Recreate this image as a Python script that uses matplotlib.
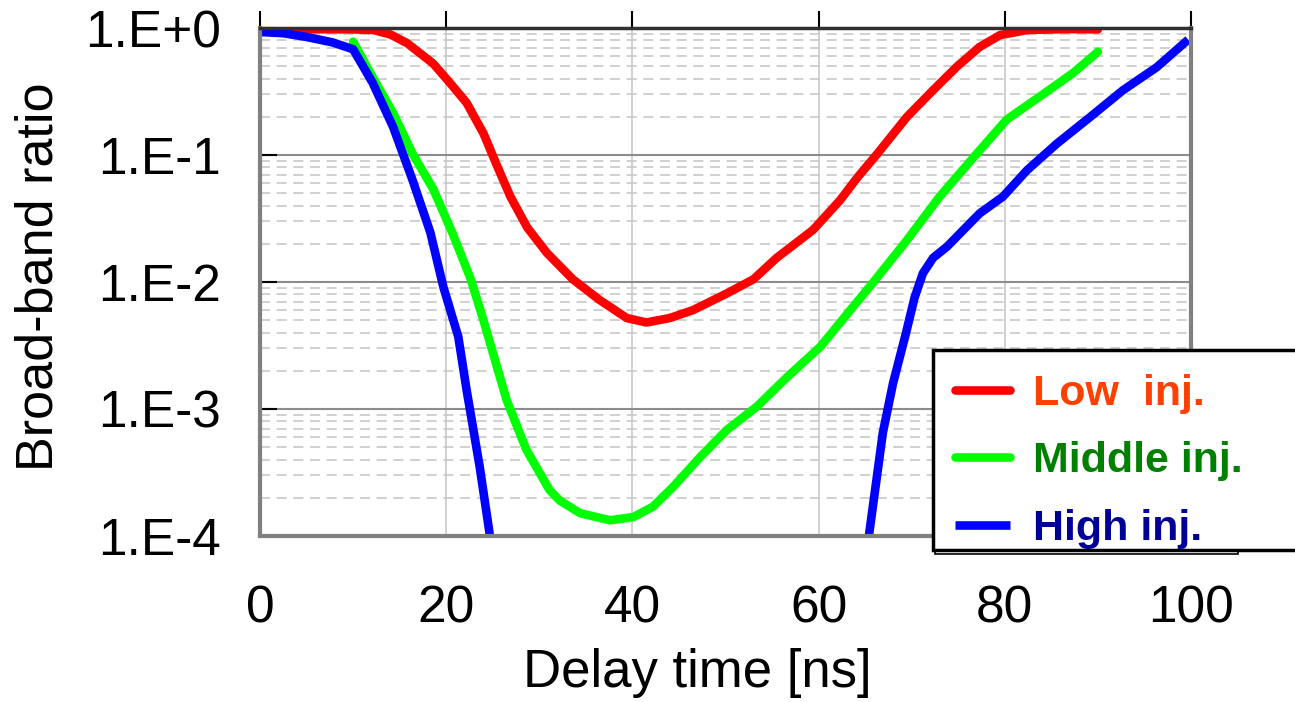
import numpy as np
import matplotlib
matplotlib.use('Agg')
import matplotlib.pyplot as plt
from matplotlib.ticker import LogLocator, NullFormatter
from matplotlib.patches import Rectangle

plt.rcParams['font.family'] = ['Liberation Sans', 'DejaVu Sans']

# curves (delay time in ns, ratio)
low_t = [0, 5, 10, 12.2, 14, 15.8, 18.6, 20.4, 22.2, 24, 25.5, 26.9, 28.7, 30.8, 33.6, 36.5,
         39.4, 41.5, 44, 46.5, 50.1, 53, 55.5, 59.4, 62.3, 64.2, 66.2, 69.5, 72.3, 74.9, 77.3,
         79.5, 82.4, 85, 87.3, 90]
low_r = [0.98, 0.98, 0.975, 0.964, 0.89, 0.76, 0.525, 0.37, 0.257, 0.148, 0.081, 0.047,
         0.0269, 0.017, 0.0105, 0.0072, 0.0052, 0.0048, 0.0052, 0.006, 0.0081, 0.0105, 0.0155,
         0.0257, 0.044, 0.067, 0.1, 0.2, 0.324, 0.5, 0.71, 0.88, 0.964, 0.975, 0.98, 0.975]

mid_t = [10, 12.1, 14.3, 16.4, 18.6, 20.7, 22.6, 24, 26.5, 28.6, 31.1, 32.2, 34.4, 37.6, 40.1,
         42.2, 44.4, 47.3, 50.1, 53.4, 56.6, 60.2, 63.4, 65.8, 69.5, 73, 76.6, 80.2, 83.8,
         87.3, 90]
mid_r = [0.78, 0.41, 0.214, 0.102, 0.054, 0.024, 0.0107, 0.005, 0.00117, 0.00048, 0.00023,
         0.00019, 0.000151, 0.000133, 0.000141, 0.00017, 0.000245, 0.00042, 0.00068, 0.00105,
         0.00178, 0.0031, 0.006, 0.0098, 0.0214, 0.047, 0.095, 0.19, 0.29, 0.44, 0.65]

high_t = [0, 2.5, 5, 7.8, 10, 12.1, 14.3, 16.4, 18.3, 19.7, 21.3, 22.2, 23.6, 24.7, 25.3]
high_r = [0.93, 0.91, 0.85, 0.77, 0.68, 0.37, 0.166, 0.063, 0.0245, 0.0091, 0.0037, 0.0014,
          0.00035, 0.0001, 0.00004]
high2_t = [64.9, 65.4, 66.9, 68, 69.4, 70.3, 71.2, 72.3, 73.8, 77.3, 79.8, 82.4, 85.6, 89.2,
           92.7, 96.3, 99.7]
high2_r = [0.00004, 0.0001, 0.00065, 0.0016, 0.004, 0.0075, 0.0117, 0.0155, 0.019, 0.0347,
           0.047, 0.076, 0.123, 0.2, 0.324, 0.49, 0.81]

labels = ['Low  inj.', 'Middle inj.', 'High inj.']
label_colors = ['#ff4000', '#008000', '#000099']
line_colors = ['#ff0000', '#00ff00', '#0000ff']

xticks = [0, 20, 40, 60, 80, 100]
yticks = [1e-4, 1e-3, 1e-2, 1e-1, 1]
ytick_labels = ['1.E-4', '1.E-3', '1.E-2', '1.E-1', '1.E+0']

fig = plt.figure(figsize=(12.95, 7.02), dpi=100)
ax = fig.add_axes([260 / 1295, 1 - 536 / 702, 931 / 1295, 508 / 702])

lw = 6.2
kw = dict(lw=lw, solid_joinstyle='round')
l1, = ax.plot(low_t, low_r, color=line_colors[0], solid_capstyle='round', **kw)
l2, = ax.plot(mid_t, mid_r, color=line_colors[1], solid_capstyle='round', **kw)
l3, = ax.plot(high_t, high_r, color=line_colors[2], solid_capstyle='butt', **kw)
ax.plot(high2_t, high2_r, color=line_colors[2], solid_capstyle='butt', **kw)

ax.set_yscale('log')
ax.set_xlim(0, 100)
ax.set_ylim(1e-4, 1)
ax.set_xticks(xticks)
ax.set_yticks(yticks)
ax.set_yticklabels(ytick_labels)
ax.yaxis.set_minor_locator(LogLocator(base=10, subs=np.arange(2, 10)))
ax.yaxis.set_minor_formatter(NullFormatter())

ax.grid(True, axis='x', color='#c8c8c8', lw=1.2)
ax.grid(True, axis='y', which='major', color='#8c8c8c', lw=1.5)
ax.grid(True, axis='y', which='minor', color='#c8c8c8', lw=1.2, ls=(0, (6, 4)))
ax.set_axisbelow(True)

for side in ['left', 'right', 'bottom']:
    ax.spines[side].set_color('#808080')
    ax.spines[side].set_linewidth(3)
ax.spines['top'].set_color('#303030')
ax.spines['top'].set_linewidth(2.5)

ax.tick_params(axis='x', bottom=False, top=True, labelbottom=True, labeltop=False,
               direction='out', length=12, width=1.5, color='black', labelsize=37, pad=23)
ax.tick_params(axis='y', which='major', direction='in', length=12, width=1.5, color='black',
               labelsize=37, pad=28)
ax.tick_params(axis='y', which='minor', length=0)

ax.set_xlabel('Delay time [ns]', fontsize=38)
ax.xaxis.set_label_coords((697 - 260) / 931, (536 - 648) / 508)
ax.set_ylabel('Broad-band ratio', fontsize=37.5)
ax.yaxis.set_label_coords((64 - 260) / 931, (536 - 277) / 508)

# legend box: drawn by hand so it can run off the right edge like the original
fig.add_artist(Rectangle((935 / 1295, 1 - 554 / 702), 303 / 1295, 202 / 702,
                         transform=fig.transFigure, facecolor='white', edgecolor='black',
                         lw=1.2, zorder=2))
fig.add_artist(Rectangle((933 / 1295, 1 - 550 / 702), 400 / 1295, 200 / 702,
                         transform=fig.transFigure, facecolor='white', edgecolor='black',
                         lw=2.5, zorder=3))
leg = fig.legend([l1, l2, l3], labels, loc='upper left',
                 bbox_to_anchor=(939 / 1295, 1 - 358 / 702),
                 prop={'weight': 'bold', 'size': 31}, handlelength=1.28, handletextpad=0.52,
                 labelspacing=0.63, borderpad=0.38, borderaxespad=0, frameon=False)
leg.set_zorder(5)
for txt, c in zip(leg.get_texts(), label_colors):
    txt.set_color(c)

fig.savefig('out.png', dpi=100)
